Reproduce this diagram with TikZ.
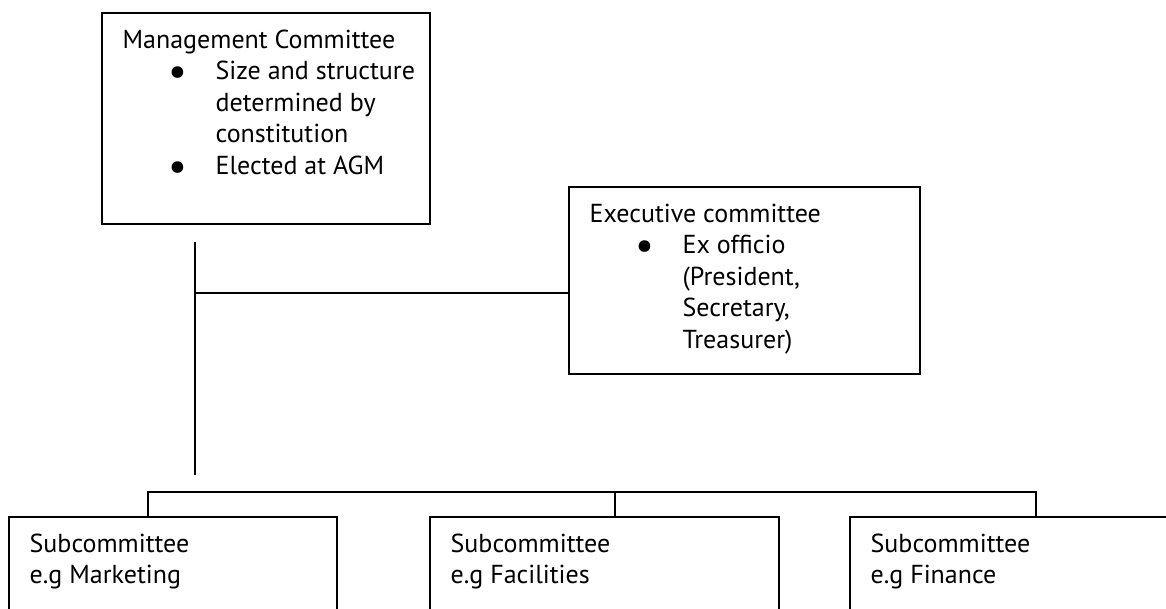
\documentclass[tikz,border=0pt]{standalone}
\usepackage{fontspec}
\setmainfont{PT Sans}
\usetikzlibrary{positioning}

\newcommand{\bigbullet}{\raisebox{-6pt}{\scalebox{1.6}{\textbullet}}}
\newcommand{\bulline}[1]{\hspace*{46pt}\makebox[47pt][l]{\bigbullet}#1}
\newcommand{\contline}[1]{\hspace*{93pt}#1}

\begin{document}
\begin{tikzpicture}[
    x = 1pt, y = -1pt, % one unit is one pixel, y runs down
    line width = 1.3pt, % connector lines
    node distance = 17pt and 21pt % inset of the text in a box
    ]

    \tikzset{box/.style={
    draw,
    line width = 2pt,
    anchor = north west,
    inner sep = 0pt
    }}
    \tikzset{boxtext/.style={
    anchor = north west,
    align = left,
    inner sep = 0pt,
    font = \fontsize{26}{31.5}\selectfont
    }}

    \useasboundingbox (0,0) rectangle (1166,609);
    \clip (0,0) rectangle (1166,609);

    % committees
    \node[box, minimum width = 328pt, minimum height = 211pt] (mgmt) at (101,12) {};
    \node[boxtext, below right = of mgmt.north west] (mgmt text) {Management Committee\\
        \bulline{Size and structure}\\ \contline{determined by}\\
        \contline{constitution}\\ \bulline{Elected at AGM}};

    \node[box, minimum width = 351pt, minimum height = 187pt] (exec) at (568,186) {};
    \node[boxtext, below right = of exec.north west] (exec text) {Executive committee\\
        \bulline{Ex officio}\\ \contline{(President,}\\
        \contline{Secretary,}\\ \contline{Treasurer)}};

    % subcommittees
    \node[box, minimum width = 328pt, minimum height = 150pt] (sub1) at (8,516) {};
    \node[boxtext, below right = of sub1.north west] (sub1 text) {Subcommittee\\ e.g Marketing};
    \node[box, minimum width = 349pt, minimum height = 150pt] (sub2) at (429,516) {};
    \node[boxtext, below right = of sub2.north west] (sub2 text) {Subcommittee\\ e.g Facilities};
    \node[box, minimum width = 400pt, minimum height = 150pt] (sub3) at (849,516) {};
    \node[boxtext, below right = of sub3.north west] (sub3 text) {Subcommittee\\ e.g Finance};

    % connectors
    \coordinate (stem top) at (195,242);
    \coordinate (stem end) at (195,475);
    \coordinate (exec join) at (195,293);
    \coordinate (bar left) at (148,492);
    \coordinate (bar mid) at (615,492);
    \coordinate (bar right) at (1036,492);

    \draw (stem top) -- (stem end);
    \draw (exec join) -- (exec join -| exec.west);
    \draw (bar left |- sub1.north) -- (bar left) -- (bar right) -- (bar right |- sub3.north);
    \draw (bar mid) -- (bar mid |- sub2.north);
\end{tikzpicture}
\end{document}
